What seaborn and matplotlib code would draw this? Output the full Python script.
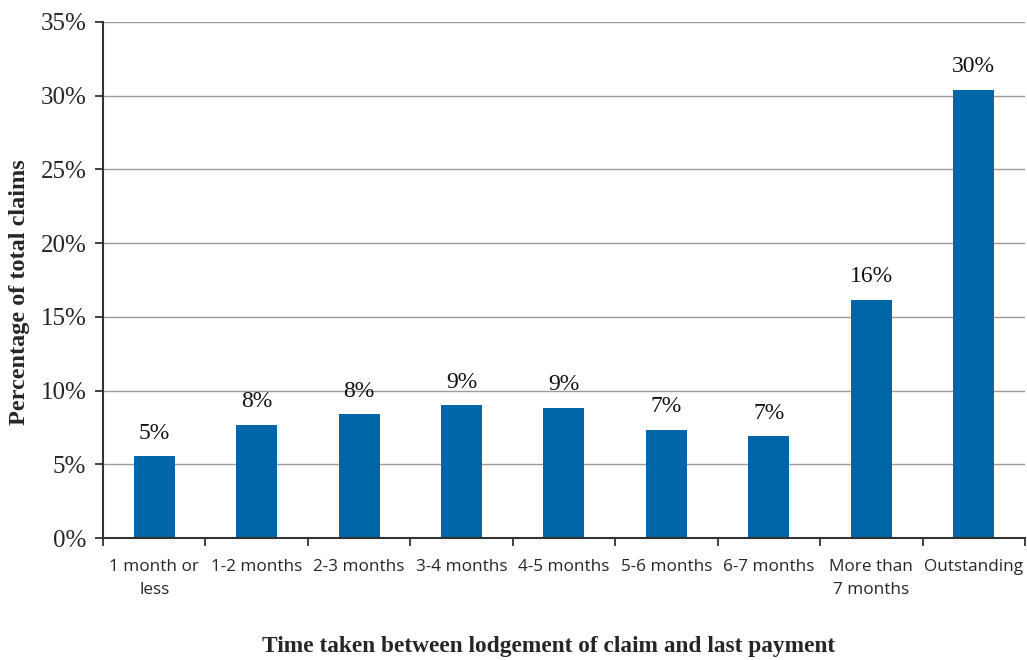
import matplotlib
matplotlib.use("Agg")
import matplotlib.pyplot as plt
import seaborn as sns
import pandas as pd
from matplotlib.ticker import FixedLocator, FuncFormatter

categories = ["1 month or\nless", "1-2 months", "2-3 months", "3-4 months", "4-5 months",
              "5-6 months", "6-7 months", "More than\n7 months", "Outstanding"]
values = [5.56, 7.67, 8.41, 9.02, 8.82, 7.33, 6.92, 16.15, 30.4]
value_labels = ["5%", "8%", "8%", "9%", "9%", "7%", "7%", "16%", "30%"]

sns.set_theme(style="white")
plt.rcParams['font.family'] = ['Liberation Serif', 'DejaVu Serif']

df = pd.DataFrame({"cat": categories, "val": values})

fig = plt.figure(figsize=(10.27, 6.6), dpi=100)
ax = fig.add_axes([0.1003, 0.1848, 0.8977, 0.7819])
sns.barplot(data=df, x="cat", y="val", color="#0066A8", width=0.4, ax=ax, saturation=1,
            edgecolor="none", linewidth=0)

ax.set_ylim(0, 35)
ax.set_xlim(-0.5, len(categories) - 0.5)
ax.yaxis.set_major_locator(FixedLocator(range(0, 36, 5)))
ax.yaxis.set_major_formatter(FuncFormatter(lambda v, p: f"{int(v)}%"))
ax.grid(axis="y", color="#9a9a9a", linewidth=1)
ax.set_axisbelow(True)

# x: ticks at category boundaries, labels at centres
ax.set_xticks([i - 0.5 for i in range(len(categories) + 1)])
ax.set_xticklabels([])
ax.set_xticks(range(len(categories)), minor=True)
ax.set_xticklabels(categories, minor=True, fontfamily="Open Sans", fontsize=12.3, linespacing=1.6)
ax.tick_params(axis="x", which="major", length=6, width=1.3, color="#333333", direction="out", bottom=True)
ax.tick_params(axis="x", which="minor", length=0, pad=15)
ax.tick_params(axis="y", which="major", length=6, width=1.3, color="#333333", direction="out", left=True,
               labelsize=18, pad=6)
for lab in ax.get_yticklabels():
    lab.set_fontfamily("Liberation Serif")

for s in ["top", "right"]:
    ax.spines[s].set_visible(False)
for s in ["left", "bottom"]:
    ax.spines[s].set_color("#333333")
    ax.spines[s].set_linewidth(1.5)

for i, (v, lab) in enumerate(zip(values, value_labels)):
    ax.annotate(lab, (i, v), xytext=(0, 9), textcoords="offset points",
                ha="center", va="bottom", fontsize=17, fontfamily="Liberation Serif", color="#111111")

ax.set_xlabel("Time taken between lodgement of claim and last payment", fontsize=16.8,
              fontweight="bold", fontfamily="Liberation Serif")
ax.set_ylabel("Percentage of total claims", fontsize=17.5, fontweight="bold",
              fontfamily="Liberation Serif")
ax.xaxis.set_label_coords(0.483, -0.19)
ax.yaxis.set_label_coords(-0.079, 0.477)

fig.savefig("out.png", dpi=100)
